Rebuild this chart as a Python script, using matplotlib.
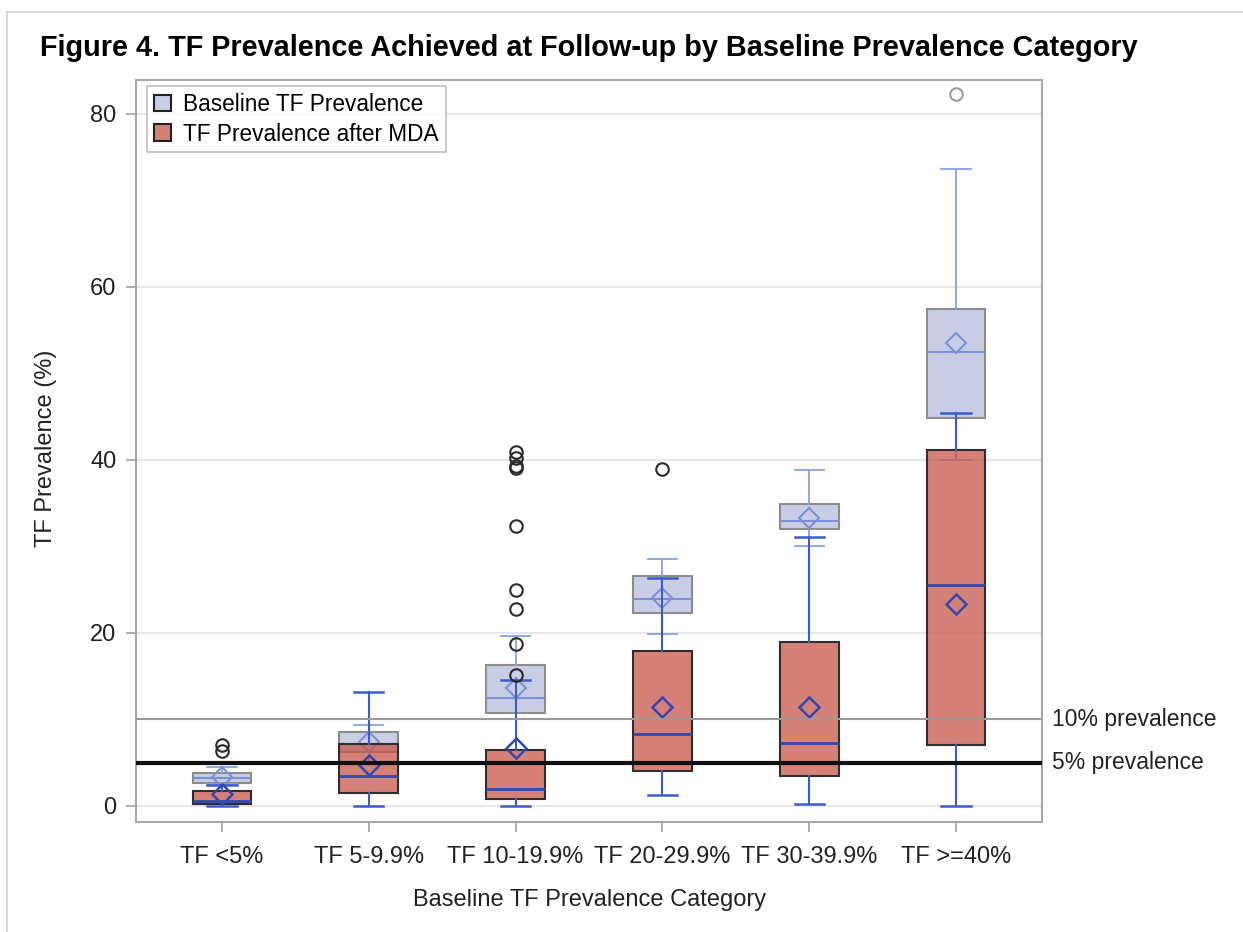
import matplotlib
matplotlib.use('Agg')
import matplotlib.pyplot as plt
from matplotlib import font_manager
from matplotlib.patches import Patch, Rectangle

categories = ['TF <5%', 'TF 5-9.9%', 'TF 10-19.9%', 'TF 20-29.9%', 'TF 30-39.9%', 'TF >=40%']

# baseline TF prevalence
base_whislo = [2.5, 5.0, 10.0, 19.9, 30.1, 40.0]
base_q1 = [2.65, 6.3, 10.75, 22.3, 32.0, 44.9]
base_med = [3.2, 7.2, 12.5, 23.9, 32.9, 52.5]
base_q3 = [3.8, 8.5, 16.3, 26.6, 34.9, 57.5]
base_whishi = [4.5, 9.4, 19.7, 28.6, 38.9, 73.6]
base_mean = [3.35, 7.4, 13.6, 24.1, 33.3, 53.5]
base_fliers = [[], [], [], [], [], [82.3]]

# TF prevalence after MDA
mda_whislo = [0.0, 0.0, 0.0, 1.3, 0.2, 0.0]
mda_q1 = [0.2, 1.5, 0.8, 4.0, 3.5, 7.1]
mda_med = [0.6, 3.5, 2.0, 8.3, 7.3, 25.5]
mda_q3 = [1.7, 7.2, 6.5, 17.9, 19.0, 41.2]
mda_whishi = [2.4, 13.2, 14.6, 26.4, 31.1, 45.4]
mda_mean = [1.4, 4.7, 6.7, 11.4, 11.4, 23.4]
mda_fliers = [[6.4, 7.0], [], [15.1, 18.7, 22.8, 25.0, 32.4, 39.1, 39.3, 40.2, 40.9], [39.0], [], []]

ref_values = [10, 5]
ref_labels = ['10% prevalence', '5% prevalence']


def make_stats(lo, q1, med, q3, hi, mean, fl):
    out = []
    for i in range(len(lo)):
        out.append({'whislo': lo[i], 'q1': q1[i], 'med': med[i], 'q3': q3[i],
                    'whishi': hi[i], 'mean': mean[i], 'fliers': fl[i]})
    return out


plt.rcParams['font.family'] = ['Liberation Sans', 'DejaVu Sans']

fig = plt.figure(figsize=(12.43, 9.32), dpi=100)
ax = fig.add_axes([136 / 1243, 1 - 822 / 932, 906 / 1243, 742 / 932])

pos = list(range(len(categories)))
base_face = (0.47, 0.52, 0.76, 0.4)
mda_face = (0.78, 0.34, 0.29, 0.75)

ax.bxp(make_stats(base_whislo, base_q1, base_med, base_q3, base_whishi, base_mean, base_fliers),
       positions=pos, widths=0.4, capwidths=0.2, showmeans=True, patch_artist=True, zorder=3,
       boxprops=dict(facecolor=base_face, edgecolor='#8c8c8c', linewidth=1.5),
       whiskerprops=dict(color='#8aa0e2', linewidth=1.3),
       capprops=dict(color='#8aa0e2', linewidth=1.3),
       medianprops=dict(color='#7b90d8', linewidth=1.5),
       meanprops=dict(marker='D', markerfacecolor='none', markeredgecolor='#7b90d8',
                      markersize=10.5, markeredgewidth=1.5),
       flierprops=dict(marker='o', markerfacecolor='none', markeredgecolor='#9a9a9a',
                       markersize=9, markeredgewidth=1.5))

ax.bxp(make_stats(mda_whislo, mda_q1, mda_med, mda_q3, mda_whishi, mda_mean, mda_fliers),
       positions=pos, widths=0.4, capwidths=0.2, showmeans=True, patch_artist=True, zorder=4,
       boxprops=dict(facecolor=mda_face, edgecolor='#2e2e2e', linewidth=1.5),
       whiskerprops=dict(color='#3a5ccc', linewidth=1.5),
       capprops=dict(color='#3a5ccc', linewidth=1.8),
       medianprops=dict(color='#3346b0', linewidth=2),
       meanprops=dict(marker='D', markerfacecolor='none', markeredgecolor='#3346b0',
                      markersize=10.5, markeredgewidth=1.8),
       flierprops=dict(marker='o', markerfacecolor='none', markeredgecolor='#2a2a2a',
                       markersize=9, markeredgewidth=1.5))

# reference lines
ax.axhline(ref_values[0], color='#9a9a9a', linewidth=1.5, zorder=5)
ax.axhline(ref_values[1], color='#111111', linewidth=3, zorder=5)
for v, lab in zip(ref_values, ref_labels):
    ax.text(1.011, v, lab, transform=ax.get_yaxis_transform(), ha='left', va='center',
            fontsize=16.5, color='#222222', clip_on=False)

ax.set_xlim(-0.586, 5.586)
ax.set_ylim(-1.85, 83.93)
ax.set_yticks([0, 20, 40, 60, 80])
ax.set_xticks(pos)
ax.set_xticklabels(categories)
ax.yaxis.grid(True, color='#e3e3e3', linewidth=1.2, zorder=0)
ax.set_axisbelow(True)
for s in ax.spines.values():
    s.set_color('#a8a8a8')
    s.set_linewidth(1.5)
ax.tick_params(axis='both', colors='#a8a8a8', labelcolor='#222222', labelsize=17,
               length=7, width=1.3)
ax.tick_params(axis='x', pad=10)
ax.tick_params(axis='y', pad=7)

leg = ax.legend(handles=[Patch(facecolor=base_face, edgecolor='#222222', linewidth=1.5, label='Baseline TF Prevalence'),
                         Patch(facecolor=mda_face, edgecolor='#222222', linewidth=1.5, label='TF Prevalence after MDA')],
                loc='upper left', bbox_to_anchor=(0.012, 0.992), fontsize=16.3, fancybox=False,
                handlelength=0.75, handleheight=0.75, handletextpad=0.55, labelspacing=0.3,
                borderpad=0.3, borderaxespad=0)
leg.get_frame().set_edgecolor('#b0b0b0')
leg.get_frame().set_linewidth(1.2)

fig.text(46 / 1243, 1 - 448 / 932, 'TF Prevalence (%)', rotation=90, ha='center', va='center',
         fontsize=17, color='#222222')
fig.text(590 / 1243, 1 - 900 / 932, 'Baseline TF Prevalence Category', ha='center', va='center',
         fontsize=17, color='#222222')

title_font = 'Liberation Sans'
try:
    font_manager.findfont('Liberation Sans Narrow', fallback_to_default=False)
    title_font = 'Liberation Sans Narrow'
except ValueError:
    pass
title = fig.text(40 / 1243, 1 - 48 / 932,
                 'Figure 4. TF Prevalence Achieved at Follow-up by Baseline Prevalence Category',
                 ha='left', va='center', fontsize=20, fontweight='bold', family=title_font, color='black')
fig.canvas.draw()
w = title.get_window_extent().width
title.set_fontsize(20 * 1100 / w)

# light frame round the figure (top and left edges show)
fig.add_artist(Rectangle((7 / 1243, -0.01), 1.05, 1.01 - 12 / 932, transform=fig.transFigure,
                         fill=False, edgecolor='#d8d8d8', linewidth=1.5))

fig.savefig('out.png', dpi=100)
